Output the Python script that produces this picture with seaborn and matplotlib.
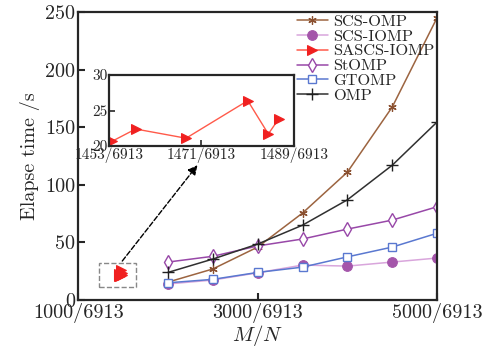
import numpy as np
import pandas as pd
import matplotlib
matplotlib.use("Agg")
import matplotlib.pyplot as plt
from matplotlib.patches import Rectangle
import seaborn as sns

N = 6913
m_main = [2000, 2500, 3000, 3500, 4000, 4500, 5000]
scs_omp = [15.6, 27, 46, 75.5, 111, 167.5, 245]
scs_iomp = [14, 17.4, 23.7, 30.4, 29.5, 33, 36.5]
stomp = [33, 38, 47, 53, 61.6, 69.4, 81]
gtomp = [15, 18, 24, 28.6, 37.5, 46, 58]
omp = [24, 35.6, 48.6, 65, 87, 117, 154.5]

m_sascs = [1453.7, 1458.2, 1468, 1480, 1484, 1486]
sascs_iomp = [20.7, 22.4, 21.1, 26.4, 21.7, 23.8]

x_ticks = [1000, 3000, 5000]
y_ticks = [0, 50, 100, 150, 200, 250]
inset_x_ticks = [1453, 1471, 1489]
inset_y_ticks = [20, 25, 30]

sns.set_style("ticks")
plt.rcParams['font.family'] = ['cmr10', 'DejaVu Serif']
plt.rcParams['mathtext.fontset'] = 'cm'
plt.rcParams['axes.unicode_minus'] = False

fig = plt.figure(figsize=(4.95, 3.51), dpi=100)
ax = fig.add_axes([0.158, 0.145, 0.725, 0.821])

x_main = np.array(m_main) / N
x_sascs = np.array(m_sascs) / N

styles = [
    ("SCS-OMP", x_main, scs_omp, dict(color="#9c6440", marker=(6, 2, 0), markersize=6, markeredgecolor="#8a5030", markeredgewidth=0.9)),
    ("SCS-IOMP", x_main, scs_iomp, dict(color="#d9a6dc", marker="o", markersize=7, markerfacecolor="#a455aa", markeredgecolor="#a455aa")),
    ("SASCS-IOMP", x_sascs, sascs_iomp, dict(color="#ff5a4a", marker=">", markersize=7, markerfacecolor="#f02020", markeredgecolor="#f02020")),
    ("StOMP", x_main, stomp, dict(color="#9848a8", marker="d", markersize=7, markerfacecolor="white", markeredgecolor="#9848a8", markeredgewidth=1)),
    ("GTOMP", x_main, gtomp, dict(color="#5a78d0", marker="s", markersize=6, markerfacecolor="white", markeredgecolor="#5a78d0", markeredgewidth=1)),
    ("OMP", x_main, omp, dict(color="#303030", marker="+", markersize=8, markeredgecolor="#202020", markeredgewidth=1)),
]

for label, xs, ys, kw in styles:
    df = pd.DataFrame({"x": xs, "y": ys})
    sns.lineplot(data=df, x="x", y="y", ax=ax, label=label, linewidth=1.1, **kw)

ax.set_xlim(1000 / N, 5000 / N)
ax.set_ylim(0, 250)
ax.set_xticks([t / N for t in x_ticks])
ax.set_xticklabels([f"{t}/{N}" for t in x_ticks])
ax.set_yticks(y_ticks)
ax.tick_params(direction="in", labelsize=14.5, width=1.5, length=5, pad=2)
for s in ax.spines.values():
    s.set_linewidth(1.6)
    s.set_visible(True)
ax.set_xlabel("$M/N$", fontsize=15, labelpad=0)
ax.set_ylabel("Elapse time /s", fontsize=14.5, labelpad=4)

ax.legend(loc="upper right", frameon=False, fontsize=11.8, labelspacing=0.02,
          handlelength=1.95, handletextpad=0.3, borderaxespad=0.05, borderpad=0.1)

# dashed box around the SASCS points
ax.add_patch(Rectangle((1236 / N, 11.3), (1640 - 1236) / N, 20.7, fill=False,
                       edgecolor="#888888", linestyle="--", linewidth=1))
ax.annotate("", xy=(2348 / N, 119), xytext=(1472 / N, 32),
            arrowprops=dict(arrowstyle="-|>", linestyle="--", color="black",
                            linewidth=1, mutation_scale=14))

# inset zoom
axin = fig.add_axes([0.220, 0.584, 0.374, 0.202])
label, xs, ys, kw = styles[2]
sns.lineplot(x=xs, y=ys, ax=axin, linewidth=1, **kw)
axin.set_xlim(1453 / N, 1489 / N)
axin.set_ylim(20, 30)
axin.set_xticks([t / N for t in inset_x_ticks])
axin.set_xticklabels([f"{t}/{N}" for t in inset_x_ticks])
axin.set_yticks(inset_y_ticks)
axin.tick_params(direction="in", labelsize=11, width=1.2, length=4, pad=1)
axin.set_xlabel("")
axin.set_ylabel("")
for s in axin.spines.values():
    s.set_linewidth(1.6)
    s.set_visible(True)

fig.savefig("out.png", dpi=100)
